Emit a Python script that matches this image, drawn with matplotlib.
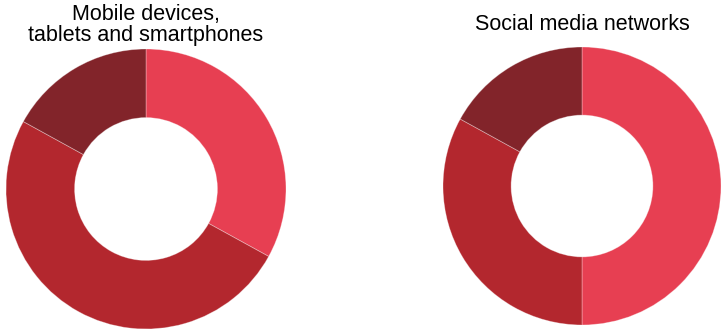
import matplotlib.pyplot as plt

plt.rcParams['font.family'] = ['Liberation Sans', 'DejaVu Sans']

# shares, clockwise from 12 o'clock
mobile_shares = [33, 50, 17]
social_shares = [50, 33, 17]
titles = ['Mobile devices,\ntablets and smartphones', 'Social media networks']
colors = ['#e73f52', '#b3272e', '#82242a']

W, H = 722, 329
fig = plt.figure(figsize=(W / 100, H / 100), dpi=100)
ax = fig.add_axes([0, 0, 1, 1])

def donut(shares, cx, cy, r):
	ax.pie(shares, colors=colors, startangle=90, counterclock=False,
		center=(cx, cy), radius=r, frame=True,
		wedgeprops=dict(width=r * 0.49, edgecolor=(1, 1, 1, 0.35), linewidth=0.6))

donut(mobile_shares, 146, H - 189, 140)
donut(social_shares, 582, H - 186, 139)
ax.set_xlim(0, W)
ax.set_ylim(0, H)
ax.set_aspect('equal')
ax.axis('off')

ax.text(146, H - 25, titles[0], ha='center', va='center', fontsize=15.5, linespacing=1.05)
ax.text(582, H - 24, titles[1], ha='center', va='center', fontsize=15.5)

fig.savefig('out.png', dpi=100)
